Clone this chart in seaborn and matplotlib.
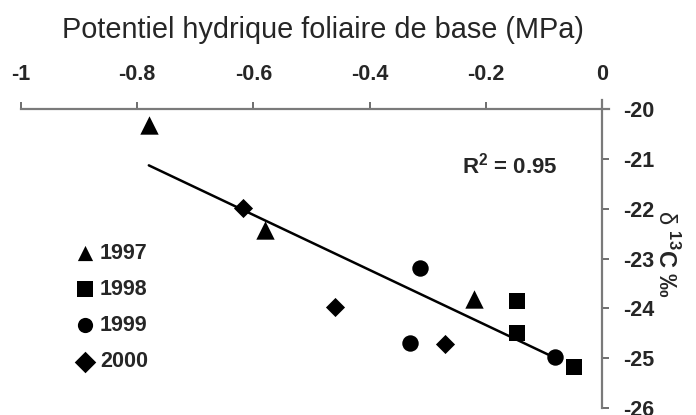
import numpy as np
import pandas as pd
import matplotlib
matplotlib.use("Agg")
import matplotlib.pyplot as plt
import seaborn as sns

sns.set_theme(style="white")
plt.rcParams['font.family'] = ['Liberation Sans', 'DejaVu Sans']
plt.rcParams['axes.unicode_minus'] = False
plt.rcParams['mathtext.fontset'] = 'custom'
plt.rcParams['mathtext.rm'] = 'Liberation Sans'
plt.rcParams['mathtext.bf'] = 'Liberation Sans:bold'

# ---- data ----
years = ["1997", "1998", "1999", "2000"]
psi_1997 = [-0.78, -0.58, -0.221]
d13c_1997 = [-20.32, -22.42, -23.82]
psi_1998 = [-0.147, -0.147, -0.049]
d13c_1998 = [-23.86, -24.50, -25.18]
psi_1999 = [-0.313, -0.331, -0.081]
d13c_1999 = [-23.19, -24.70, -24.98]
psi_2000 = [-0.618, -0.46, -0.271]
d13c_2000 = [-21.98, -23.98, -24.71]

fit_slope = -5.525
fit_intercept = -25.44
fit_x = [-0.78, -0.085]
r2_label = "R$^{\\mathbf{2}}$ = 0.95"

x_ticks = [-1, -0.8, -0.6, -0.4, -0.2, 0]
x_ticklabels = ["-1", "-0.8", "-0.6", "-0.4", "-0.2", "0"]
y_ticks = [-20, -21, -22, -23, -24, -25, -26]
y_ticklabels = ["-20", "-21", "-22", "-23", "-24", "-25", "-26"]

df = pd.DataFrame({
    "psi": psi_1997 + psi_1998 + psi_1999 + psi_2000,
    "d13c": d13c_1997 + d13c_1998 + d13c_1999 + d13c_2000,
    "year": [years[0]] * 3 + [years[1]] * 3 + [years[2]] * 3 + [years[3]] * 3,
})
fit_df = pd.DataFrame({"x": fit_x,
                       "y": [fit_intercept + fit_slope * v for v in fit_x]})

# ---- figure ----
fig = plt.figure(figsize=(6.96, 4.15), dpi=100)
x0, xr = -1.0, 0.012
y0, yt = -26.0, -19.82
px_per_x = 581.0
px_per_y = 49.83
ax_w = (xr - x0) * px_per_x
ax_h = (yt - y0) * px_per_y
ax = fig.add_axes([21 / 696, 1 - 408 / 415, ax_w / 696, ax_h / 415])

markers = {"1997": "^", "1998": "s", "1999": "o", "2000": "D"}
sizes_map = {"1997": 175, "1998": 120, "1999": 140, "2000": 95}

sns.lineplot(data=fit_df, x="x", y="y", color="black", linewidth=1.8, ax=ax)
for yr in years:
    sub = df[df["year"] == yr]
    sns.scatterplot(data=sub, x="psi", y="d13c", marker=markers[yr],
                    s=sizes_map[yr], color="black", edgecolor="black",
                    linewidth=0, ax=ax, label=yr, zorder=3)

ax.set_xlim(x0, xr)
ax.set_ylim(y0, yt)

for side in ["left", "bottom"]:
    ax.spines[side].set_visible(False)
ax.spines["top"].set_position(("data", -20))
ax.spines["right"].set_position(("data", 0))
for side in ["top", "right"]:
    ax.spines[side].set_visible(True)
    ax.spines[side].set_color("#7a7a7a")
    ax.spines[side].set_linewidth(1.6)

ax.xaxis.set_ticks_position("top")
ax.xaxis.set_label_position("top")
ax.yaxis.set_ticks_position("right")
ax.yaxis.set_label_position("right")
ax.set_xticks(x_ticks)
ax.set_xticklabels(x_ticklabels, fontweight="bold")
ax.set_yticks(y_ticks)
ax.set_yticklabels(y_ticklabels, fontweight="bold")
ax.tick_params(axis="x", direction="out", length=5, width=1.2, color="#555555",
               labelsize=15.5, pad=12)
ax.tick_params(axis="y", direction="out", length=5, width=1.2, color="#555555",
               labelsize=15.5, pad=10)

ax.set_xlabel("")
ax.set_ylabel("$\\mathrm{\\delta}$ $^{\\mathbf{13}}$C ‰", rotation=270,
              fontsize=17, fontweight="bold", labelpad=18)

fig.text(323 / 696, 1 - 30 / 415, "Potentiel hydrique foliaire de base (MPa)",
         ha="center", va="center", fontsize=20.8)

ax.text(-0.159, -21.13, r2_label, ha="center", va="center", fontsize=16,
        fontweight="bold")

leg = ax.legend(loc="upper left", bbox_to_anchor=(74 / 696, 1 - 243 / 415),
                bbox_transform=fig.transFigure, frameon=False, fontsize=15.5,
                handletextpad=0.2, labelspacing=0.7, handlelength=1.0,
                borderpad=0, borderaxespad=0)
for t in leg.get_texts():
    t.set_fontweight("bold")
for h in leg.legend_handles:
    h.set_sizes([120])

ax.set_facecolor("white")
fig.patch.set_facecolor("white")
fig.savefig("out.png", dpi=100)
